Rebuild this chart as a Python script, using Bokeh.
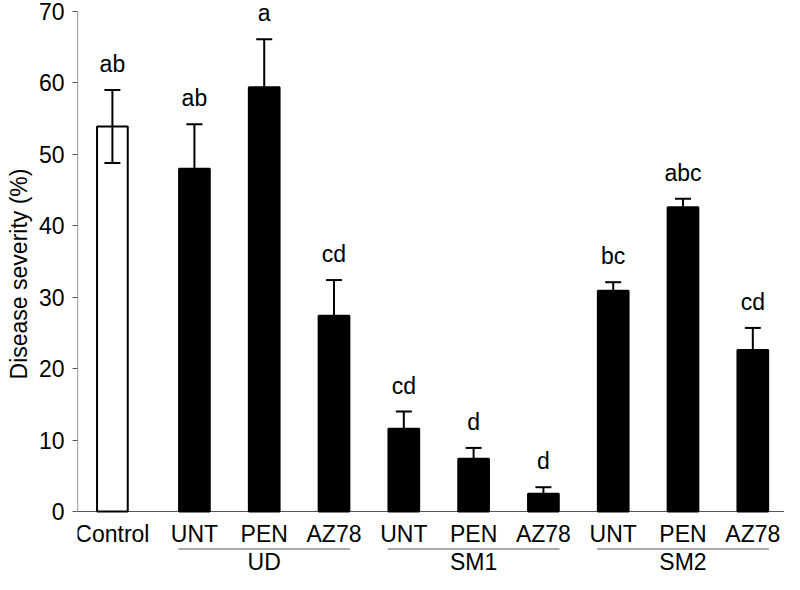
from bokeh.plotting import figure
from bokeh.layouts import column
from bokeh.models import Range1d, FixedTicker, ColumnDataSource
from bokeh.core.properties import value
from bokeh.embed import file_html
from bokeh.resources import INLINE

# ---- data ----
treatments = ["Control", "UNT", "PEN", "AZ78", "UNT", "PEN", "AZ78", "UNT", "PEN", "AZ78"]
groups = ["", "UD", "UD", "UD", "SM1", "SM1", "SM1", "SM2", "SM2", "SM2"]
severity = [53.9, 48.0, 59.4, 27.4, 11.6, 7.4, 2.5, 30.9, 42.6, 22.6]
std_err = [5.1, 6.2, 6.7, 5.0, 2.4, 1.5, 0.9, 1.2, 1.2, 3.1]
letters = ["ab", "ab", "a", "cd", "cd", "d", "d", "bc", "abc", "cd"]
group_names = ["UD", "SM1", "SM2"]
y_ticks = [0, 10, 20, 30, 40, 50, 60, 70]

FONT = "Liberation Sans"
FS = "23px"

# ---- layout ----
W, H = 784, 574
BORDER_LEFT = 77
TOP_PAD = 11          # px between figure top and y=70
zero_px = 500         # px from y=70 to y=0
BELOW = 36            # px of the top figure below y=0 (room for treatment labels)
H1 = TOP_PAD + zero_px + BELOW
H2 = H - H1
ppu_y = zero_px / 70.0
ppu_x = 69.8
frame_w = W - BORDER_LEFT
x_range = Range1d(-0.5, -0.5 + frame_w / ppu_x)
x_start, x_end = x_range.start, x_range.end

# x positions: Control, then the three groups of three
xs = [0.0] + [1.175 + i for i in range(len(treatments) - 1)]

p = figure(width=W, height=H1, output_backend="svg", toolbar_location=None,
           x_range=x_range,
           y_range=Range1d(-BELOW / ppu_y, 70 + TOP_PAD / ppu_y),
           min_border_left=BORDER_LEFT, min_border_top=0,
           min_border_bottom=0, min_border_right=0)
p.outline_line_color = None
p.xgrid.visible = False
p.ygrid.visible = False
p.xaxis.visible = False

ax = p.yaxis[0]
ax.ticker = FixedTicker(ticks=y_ticks)
ax.axis_line_color = None
ax.major_tick_out = 5
ax.major_tick_in = 0
ax.major_tick_line_color = "#555555"
ax.minor_tick_line_color = None
ax.major_label_text_font = FONT
ax.major_label_text_font_size = FS
ax.major_label_text_color = "black"
ax.major_label_standoff = 8
ax.axis_label = "Disease severity (%)"
ax.axis_label_text_font = FONT
ax.axis_label_text_font_size = FS
ax.axis_label_text_font_style = "normal"
ax.axis_label_text_color = "black"
ax.axis_label_standoff = 4

# axis lines (drawn only over 0..70 and along y=0)
p.segment(x0=[x_start], y0=[0], x1=[x_start], y1=[70], line_color="#555555", line_width=1.2)
p.segment(x0=[x_start], y0=[0], x1=[x_end], y1=[0], line_color="#555555", line_width=1.2)

fills = ["white"] + ["black"] * (len(treatments) - 1)
src = ColumnDataSource(dict(x=xs, top=severity, fill=fills))
p.vbar(x="x", top="top", bottom=0, width=0.44, source=src,
       fill_color="fill", line_color="black", line_width=2)

# error bars
lo = [v - e for v, e in zip(severity, std_err)]
hi = [v + e for v, e in zip(severity, std_err)]
cap = 8 / ppu_x
p.segment(x0=xs, y0=lo, x1=xs, y1=hi, line_color="black", line_width=2)
p.segment(x0=[x - cap for x in xs], y0=hi, x1=[x + cap for x in xs], y1=hi,
          line_color="black", line_width=2)
p.segment(x0=[x - cap for x in xs], y0=lo, x1=[x + cap for x in xs], y1=lo,
          line_color="black", line_width=2)

# significance letters
p.text(x=xs, y=[h + 26 / ppu_y for h in hi], text=letters,
       text_font=value(FONT), text_font_size=FS, text_align="center",
       text_baseline="alphabetic", text_color="black")

# treatment labels (below the y=0 line)
p.text(x=xs, y=[-22 / ppu_y] * len(xs), text=treatments,
       text_font=value(FONT), text_font_size=FS, text_align="center",
       text_baseline="middle", text_color="black")

# ---- bottom strip: group underlines and group labels ----
# y here is in pixels below the y=0 line (negative downward)
p2 = figure(width=W, height=H2, output_backend="svg", toolbar_location=None,
            x_range=x_range, y_range=Range1d(-(H2 + BELOW), -BELOW),
            min_border_left=BORDER_LEFT, min_border_top=0,
            min_border_bottom=0, min_border_right=0)
p2.outline_line_color = None
p2.xgrid.visible = False
p2.ygrid.visible = False
p2.axis.visible = False

g_centers = []
for g in group_names:
    gx = [x for x, gg in zip(xs, groups) if gg == g]
    g_centers.append(sum(gx) / len(gx))
p2.segment(x0=[c - 1.23 for c in g_centers], y0=[-37.5] * 3,
           x1=[c + 1.23 for c in g_centers], y1=[-37.5] * 3,
           line_color="#555555", line_width=1.2)
p2.text(x=g_centers, y=[-50] * 3, text=group_names,
        text_font=value(FONT), text_font_size=FS, text_align="center",
        text_baseline="middle", text_color="black")

layout = column(p, p2, spacing=0)
open("out.html", "w").write(file_html(layout, INLINE))
